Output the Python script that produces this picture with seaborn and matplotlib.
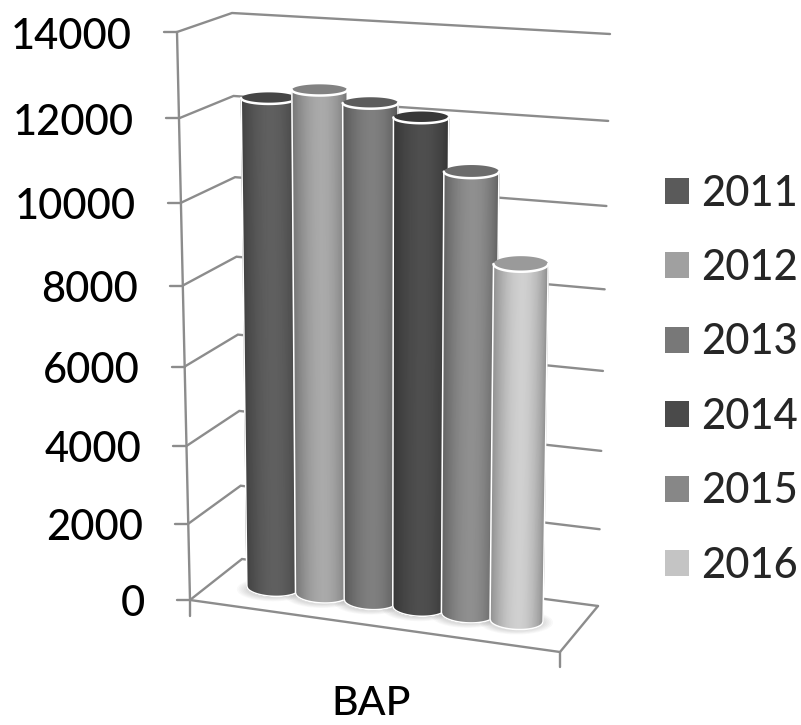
import numpy as np
import pandas as pd
import matplotlib
matplotlib.use("Agg")
import matplotlib.pyplot as plt
from matplotlib.patches import Patch
from matplotlib.transforms import Transform
import seaborn as sns

# Chart data
group_label = "BAP"
years = ["2011", "2012", "2013", "2014", "2015", "2016"]
values = [12330, 12620, 12410, 12170, 11000, 8920]
greys = ["#5a5a5a", "#a0a0a0", "#787878", "#4a4a4a", "#878787", "#c4c4c4"]
cap_greys = ["#454545", "#828282", "#5c5c5c", "#383838", "#6c6c6c", "#9a9a9a"]
y_ticks = [0, 2000, 4000, 6000, 8000, 10000, 12000, 14000]
y_max = 14000

# Pixel corners of the 3D chart box: floor level, then ceiling level
FLOOR = dict(F=(190, 600), B=(242, 559), R=(598, 606), G=(560, 652))
CEIL = dict(F=(177, 32), B=(232, 13), R=(610, 34), G=(568, 67))
LINE = "#8c8c8c"
WIDTH, HEIGHT = 801, 725
PERSPECTIVE = 0.075
LABEL_SIZE = 30


def lift(v):
    """Perspective-foreshortened height fraction of a value."""
    n = np.asarray(v, dtype=float) / y_max
    return n / (1 + PERSPECTIVE * (1 - n))


def box_point(s, d, v):
    """Pixel position at width s, depth d (both 0..1) and value v."""
    t = lift(v)
    out = []
    for i in range(2):
        lo = (1 - s) * ((1 - d) * FLOOR["F"][i] + d * FLOOR["B"][i]) + s * ((1 - d) * FLOOR["G"][i] + d * FLOOR["R"][i])
        hi = (1 - s) * ((1 - d) * CEIL["F"][i] + d * CEIL["B"][i]) + s * ((1 - d) * CEIL["G"][i] + d * CEIL["R"][i])
        out.append((1 - t) * lo + t * hi)
    return out[0], out[1]


def slot_to_s(u):
    return 0.158 + 0.134 * np.asarray(u, dtype=float)


def bar_point(u, v):
    """Pixel position of a category slot and value on the cylinders' plane."""
    s = slot_to_s(u)
    x, y = box_point(s, 0.5, v)
    return x + 3.5 * lift(v) * (1 - s), y


class BarPlane(Transform):
    """Maps (category slot, value) onto the mid-depth plane of the box."""
    input_dims = output_dims = 2
    is_separable = False
    has_inverse = False

    def transform_non_affine(self, xy):
        xy = np.asarray(xy, dtype=float)
        x, y = bar_point(xy[:, 0], xy[:, 1])
        return np.column_stack([x, y])


sns.set_theme(style="white")
plt.rcParams["font.family"] = ["Lato", "DejaVu Sans"]
plt.rcParams["font.weight"] = "medium"

fig = plt.figure(figsize=(WIDTH / 100, HEIGHT / 100), dpi=100)

# Categorical axes holding the seaborn bars
bar_ax = fig.add_axes([0, 0, 1, 1])
df = pd.DataFrame({"year": years, "value": values})
sns.barplot(data=df, x="year", y="value", hue="year", palette=greys, width=1.09,
            legend=False, ax=bar_ax, saturation=1)
bar_ax.axis("off")

# Overlay in pixel units for the projected box
ax = fig.add_axes([0, 0, 1, 1], facecolor="none")
ax.set_xlim(0, WIDTH)
ax.set_ylim(HEIGHT, 0)
ax.axis("off")
plane = BarPlane()

# Wall gridlines: front-left edge, back-left corner, back-right end
for v in y_ticks:
    pts = [box_point(0, 0, v), box_point(0, 1, v), box_point(1, 1, v)]
    ax.plot(*zip(*pts), color=LINE, lw=1.7, zorder=1, solid_joinstyle="miter")
    fx, fy = pts[0]
    ax.plot([fx - 13, fx], [fy, fy], color=LINE, lw=1.7, zorder=1)
    ax.text(fx - 45, fy + 1, str(v), ha="right", va="center_baseline", fontsize=LABEL_SIZE, color="black")

# Vertical axis and floor outline
fx0, fy0 = box_point(0, 0, 0)
fx1, fy1 = box_point(0, 0, y_max)
ax.plot([fx1, fx0, fx0], [fy1, fy0, fy0 + 16], color=LINE, lw=1.7, zorder=1)
corner = [box_point(0, 0, 0), box_point(1, 0, 0), box_point(1, 1, 0)]
ax.plot(*zip(*corner), color=LINE, lw=1.7, zorder=1)
gx, gy = corner[1]
ax.plot([gx, gx], [gy, gy + 15], color=LINE, lw=1.7, zorder=1)

# Cylinders, drawn left to right so later ones overlap earlier ones
profile = np.linspace(0, 1, 61)
shade = 0.72 + 0.34 * np.sin(np.pi * profile ** 1.1) ** 0.8
rects = [r for c in bar_ax.containers for r in c]
rects.sort(key=lambda r: r.get_x())
for i, rect in enumerate(rects):
    u0, w, val = rect.get_x(), rect.get_width(), rect.get_height()
    base_z = 10 + i * 2
    rect.set_transform(plane + ax.transData)
    rect.set_clip_on(False)
    rect.set_linewidth(0)
    rect.set_alpha(0)

    xl0, yl0 = bar_point(u0, 0)
    xr0, yr0 = bar_point(u0 + w, 0)
    xl1, yl1 = bar_point(u0, val)
    xr1, yr1 = bar_point(u0 + w, val)
    cx0, cy0 = (xl0 + xr0) / 2, (yl0 + yr0) / 2
    cxt, cyt = (xl1 + xr1) / 2, (yl1 + yr1) / 2

    # Soft contact shadow on the floor
    ang = np.linspace(0, 2 * np.pi, 80)
    for grow in np.linspace(1.0, 10, 6):
        ax.fill(cx0 + ((xr0 - xl0) / 2 + grow) * np.cos(ang),
                cy0 + 2 + (8 + grow * 0.4) * np.sin(ang),
                color="#404040", alpha=0.03, lw=0, zorder=5)

    # Body: shaded mesh whose lower edge follows the base ellipse
    xs_top = xl1 + (xr1 - xl1) * profile
    ys_top = np.full_like(profile, cyt)
    xs_bot = xl0 + (xr0 - xl0) * profile
    arc = np.sqrt(np.clip(1 - (2 * profile - 1) ** 2, 0, 1))
    ys_bot = cy0 + 0.3 * (yr0 - yl0) * (profile - 0.5) + 9 * arc
    X = np.vstack([xs_top, xs_bot])
    Y = np.vstack([ys_top, ys_bot])
    level = matplotlib.colors.to_rgb(greys[i])[0]
    C = np.vstack([np.clip(level * shade, 0, 1)] * 2)
    ax.pcolormesh(X, Y, C, shading="gouraud", cmap="gray", vmin=0, vmax=1, zorder=base_z + 0.2)

    # White rim down the sides and around the base
    ax.plot(np.r_[xs_top[0], xs_bot, xs_top[-1]], np.r_[ys_top[0], ys_bot, ys_top[-1]],
            color="white", lw=1.1, zorder=base_z + 0.4, solid_joinstyle="round")

    # Top cap
    half_h = (10 + 16 * (1 - lift(val)) - 0.5) / 2
    hw = (xr1 - xl1) / 2
    th = np.linspace(0, 2 * np.pi, 121)
    ex = cxt + hw * np.cos(th)
    ey = cyt + half_h * np.sin(th)
    ax.fill(ex, ey, color=cap_greys[i], lw=0, zorder=base_z + 0.6)
    lower = th <= np.pi
    ax.plot(ex[lower], ey[lower], color="white", lw=1.8, zorder=base_z + 0.8)

ax.text(371, 715, group_label, ha="center", va="baseline", fontsize=29.5, color="black")

handles = [Patch(facecolor=c, edgecolor="none", label=y) for c, y in zip(greys, years)]
ax.legend(handles=handles, loc="upper left", bbox_to_anchor=(650 / WIDTH, 1 - 160 / HEIGHT),
          bbox_transform=fig.transFigure, frameon=False, fontsize=LABEL_SIZE,
          handlelength=0.58, handleheight=0.58, handletextpad=0.30, labelspacing=0.875,
          borderpad=0.35, borderaxespad=0)

ax.set_xlim(0, WIDTH)
ax.set_ylim(HEIGHT, 0)
fig.savefig("out.png", dpi=100, facecolor="white")
